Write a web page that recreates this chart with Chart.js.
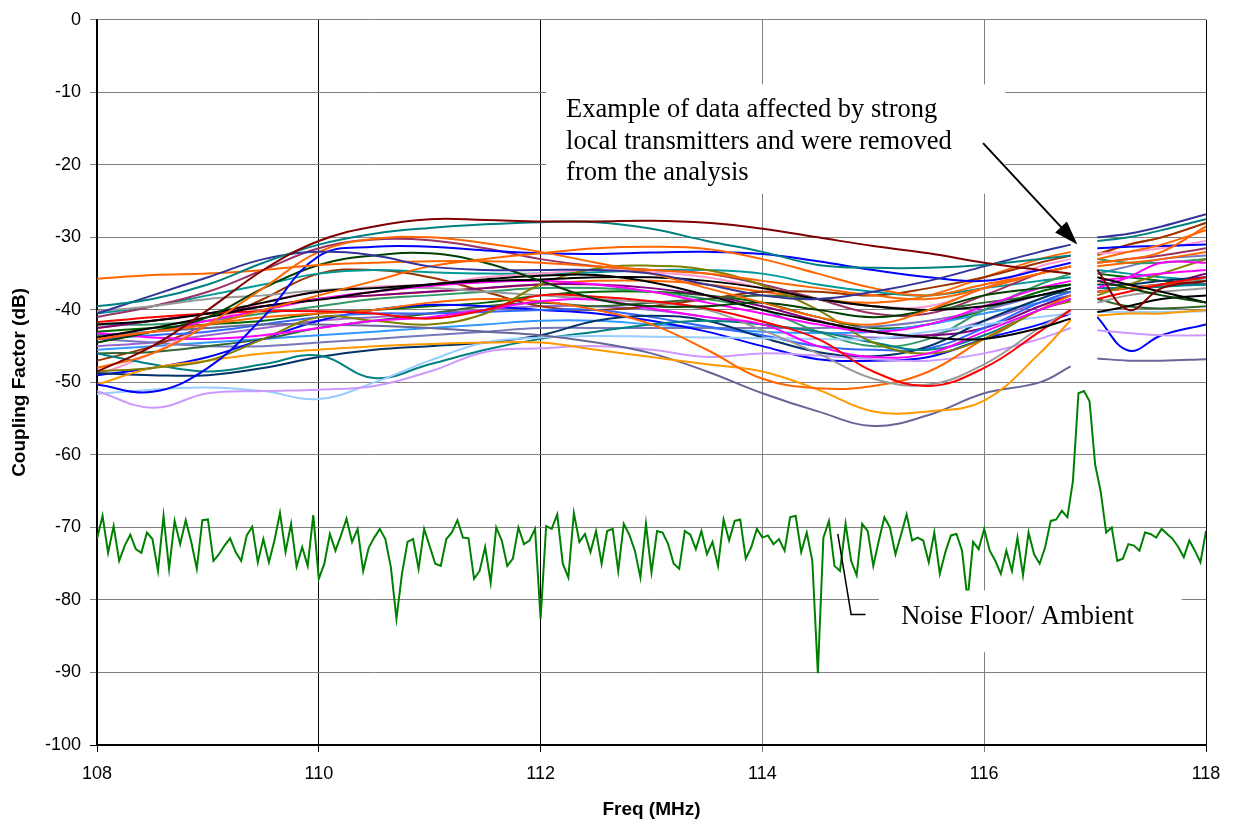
<!DOCTYPE html>
<html>
<head>
<meta charset="utf-8">
<script src="https://cdn.jsdelivr.net/npm/chart.js@4"></script>
<style>
  html, body { margin: 0; padding: 0; background: #fff; }
  #wrap { width: 1234px; height: 825px; }
</style>
</head>
<body>
<div id="wrap"><canvas id="grafico" width="1234" height="825"></canvas></div>
<script>
// frequenze dei punti letti (MHz), 116.9 = buco dei dati rimossi
var freq = [108, 108.5, 109, 109.5, 110, 110.5, 111, 111.5, 112, 112.5, 113, 113.5, 114, 114.5, 115, 115.5, 116, 116.5, 116.78, 116.9, 117.02, 117.3, 117.6, 118];

// una riga per misura: [colore, valori in dB]
var misure = [
  ['#800000', [-48.5,-45,-40,-34.5,-30.5,-28.5,-27.5,-27.6,-27.8,-27.8,-27.7,-28,-28.8,-30,-31.2,-32.2,-33.5,-34.5,-35,null,-34.5,-40,-37,-36]],
  ['#008080', [-39.5,-38.5,-36.5,-33.5,-31,-29.5,-28.7,-28.2,-27.9,-27.9,-28.8,-30.5,-32,-33.8,-34.2,-34.2,-33.8,-33,-32.5,null,-30.5,-30,-29,-27.5]],
  ['#333399', [-40.5,-38,-35.5,-33,-32,-32.5,-34,-34.5,-34.5,-34.5,-35,-36.5,-38,-38.5,-37.5,-36,-34,-32,-31,null,-30,-29.5,-28.5,-26.8]],
  ['#FF6600', [-35.7,-35.2,-35,-34.5,-33.8,-33.5,-33.3,-33.3,-33.5,-34,-34.5,-35,-36,-37,-38,-38.5,-37,-35,-34,null,-33,-32,-31,-29]],
  ['#FF6600', [-48,-46,-42,-37,-32,-30.2,-30,-30.8,-32,-33.5,-35,-37,-39,-41,-42,-40,-37,-35,-34,null,-33.5,-33,-32,-28.5]],
  ['#FF6600', [-44,-43,-42,-40,-38,-36,-34,-33,-32.2,-31.5,-31.3,-31.6,-33,-35,-37,-38,-36.5,-35,-34,null,-34,-33.5,-33,-32]],
  ['#0000FF', [-50.3,-51.3,-48,-41,-32.6,-31.3,-31.3,-31.8,-32.2,-32.3,-32.1,-32,-32.3,-33.3,-34.5,-35.5,-36,-34.5,-33.5,null,-31.5,-31.3,-31.2,-31]],
  ['#004000', [-44.5,-43,-41,-37,-33.8,-32.5,-32.2,-33.5,-36,-38.5,-39.5,-39.5,-39,-40,-41,-40,-38,-37,-36.5,null,-36,-37,-38,-39]],
  ['#000000', [-43.8,-42.5,-41,-39.5,-38.6,-37.5,-36.5,-35.8,-35.3,-35.2,-36.2,-38,-40,-41.6,-43,-43.8,-44,-42.5,-41.2,null,-40.3,-39.5,-38.5,-38]],
  ['#000000', [-42,-41.5,-40.5,-39,-37.5,-37,-36.5,-36,-35.8,-35.5,-35.5,-36,-37,-38.5,-39.5,-40,-39.5,-38,-37,null,-35.5,-36.5,-37.5,-39]],
  ['#FF0000', [-41.7,-41,-40.5,-40.2,-40.2,-40.5,-41.2,-40,-38,-38.2,-38.8,-39.8,-41.6,-44,-48.5,-50.5,-48,-43,-40,null,-38.5,-37.5,-36.5,-35.5]],
  ['#FF00FF', [-43.2,-43.8,-44,-43.5,-42.5,-41.5,-41,-40,-38.8,-38.6,-39.8,-41,-42,-45,-46.5,-46,-43,-40,-38.5,null,-37,-35.5,-33.5,-33.5]],
  ['#FF00FF', [-44,-43,-41.5,-40,-38.5,-37.5,-36.7,-36.2,-36,-36.5,-37.5,-39,-40.5,-42,-43,-42,-39.5,-37,-36,null,-36,-35.5,-35,-34.5]],
  ['#808000', [-48.5,-48,-47,-44,-41,-41.5,-42,-40.5,-36.5,-34.3,-33.9,-34.5,-36.6,-40,-44.5,-46,-44,-40,-38.8,null,-38,-36.5,-35,-33]],
  ['#999999', [-40.2,-39.5,-38.5,-38,-37.3,-37,-37,-37.5,-38,-38.5,-39,-40,-42.8,-46,-49.5,-50.3,-47.5,-42.5,-40,null,-39,-38,-37.5,-37]],
  ['#FF6600', [-44,-43,-42,-41,-40.5,-40,-39,-38.5,-38.8,-40,-42,-45.5,-49.5,-50.8,-50.5,-48.5,-44,-40,-38,null,-37.5,-37,-36.5,-36]],
  ['#FF9900', [-50.3,-48,-47,-46,-45.5,-45,-44.7,-44.5,-44.5,-45.5,-46.5,-47.5,-48.5,-51,-54,-54,-52.5,-46,-41.4,null,-40.8,-40.5,-40.5,-40]],
  ['#666699', [-43.5,-43,-42.5,-42,-42,-42.2,-42.5,-43,-43.5,-44.5,-46,-48.5,-51.5,-54,-56,-54.5,-51.5,-50,-47.8,null,-46.7,-47,-47,-46.8]],
  ['#CC99FF', [-51.2,-53.5,-51.5,-51.2,-51,-50.5,-48.5,-45.8,-45.3,-45,-45.5,-46.5,-46,-46.3,-46.8,-47,-46,-44,-42.5,null,-42.8,-43.2,-43.5,-43.5]],
  ['#99CCFF', [-51.6,-51,-50.7,-51.2,-52.3,-50,-47,-44.5,-43.8,-43.6,-43.7,-43.8,-43.9,-44,-44,-43,-42,-41,-40.5,null,-40.3,-40.3,-40.3,-40.2]],
  ['#008080', [-46,-47.5,-48.5,-47.5,-46.3,-49.4,-47.5,-45.5,-44,-43,-42,-41.5,-42,-43,-44.5,-45.5,-43.5,-40,-38.5,null,-37,-37,-36.8,-36.5]],
  ['#003366', [-48.7,-49,-49,-48,-46.5,-45.5,-45,-44.5,-43.5,-41.5,-40.8,-41.5,-43.8,-45.8,-46.4,-45,-41.5,-38.5,-37,null,-36.5,-36.5,-36,-35.5]],
  ['#3366FF', [-44,-43.5,-43,-42,-41,-40.5,-40.5,-40.3,-40,-40,-41,-42.3,-43.5,-45,-45.5,-45.3,-42.5,-39,-37.5,null,-37,-37,-36.5,-36.5]],
  ['#0000FF', [-49,-48,-46.5,-44,-41.5,-40,-39.3,-39.5,-40,-40.5,-41.5,-43,-45,-46.8,-47,-46.5,-44,-42,-40.5,null,-41,-45.6,-43.5,-42]],
  ['#336633', [-46,-45.8,-45,-44,-42.5,-41.5,-40.5,-39.5,-39,-39.5,-39,-38.5,-38,-38.5,-39.5,-40,-39,-38,-37.5,null,-38.5,-39.5,-39.8,-39.5]],
  ['#800080', [-42.5,-41.5,-40.5,-39.5,-38.5,-38,-37.5,-37,-36.5,-36.5,-37,-38,-39.5,-41.5,-43,-43.5,-42.5,-39.5,-38,null,-37.5,-37,-36.5,-35]],
  ['#339966', [-42,-42,-41.5,-40.5,-39.5,-38.5,-38,-37.5,-37,-37,-37.5,-38.5,-40,-43,-45,-44,-40,-36.5,-35,null,-33,-33.5,-33.5,-33]],
  ['#FF99CC', [-49,-46,-42,-39,-37.5,-36.8,-36.5,-35.5,-35,-34.5,-34.8,-35.5,-37,-38.5,-39.5,-39.5,-37,-34,-33,null,-32.2,-32,-31.5,-30.5]],
  ['#993366', [-41,-39.5,-37.5,-34.5,-31.5,-30.3,-30.4,-31.5,-33,-34,-34.5,-35,-36.5,-38.5,-40.5,-40.5,-38,-35,-34,null,-33.5,-33,-32.5,-31.5]],
  ['#009999', [-40.5,-39.5,-38,-36.5,-35,-34.5,-34.8,-35,-35,-34.8,-34.5,-34.5,-35,-36.5,-37.5,-38,-37,-36,-35.5,null,-34.5,-35,-35.5,-36]],
  ['#993300', [-47,-45,-42,-38.5,-35,-34.5,-35.5,-37.5,-39.5,-40,-39.5,-38.5,-37.5,-37.5,-38,-37,-35.5,-33.5,-32.5,null,-32.3,-31,-30,-28]],
  ['#7777BB', [-44,-44.5,-45,-45,-44.5,-44,-43.5,-43,-42.5,-42.5,-42.5,-42.5,-42.5,-42.5,-42.3,-41.5,-40,-38,-37,null,-35,-34,-33,-32.5]],
  ['#3399FF', [-45.5,-45,-44.5,-44,-43.5,-43,-42.5,-42,-41.5,-41.5,-42,-42.5,-43,-43.2,-43,-42,-40.5,-39,-38,null,-37.5,-37,-36.5,-36]],
  ['#006600', [-43,-42.5,-42,-41.5,-40.5,-40,-39.5,-39,-38,-37.5,-37.5,-38,-39,-41,-42.5,-42,-40,-37.5,-36.5,null,-35,-35.5,-36,-36.5]],
  ['#FF6600', [-42.5,-41.5,-40.5,-39.5,-38.5,-38,-37.5,-37,-36.5,-36,-36,-36.5,-37.5,-38.5,-39,-38,-35.5,-33,-32,null,-32.5,-31,-30,-28]],
  ['#9966CC', [-45,-44.5,-43.5,-42.5,-41.5,-41,-40.5,-40,-39.5,-39.5,-40,-41,-42,-43,-43.8,-43.5,-41.5,-39,-38,null,-37,-37,-36.5,-36]]
];

// rumore di fondo, un valore ogni 0.05 MHz da 108 a 118
var rumoreInizio = 108;
var rumorePasso = 0.05;
var rumore = [
  -71.6,-68.4,-73.5,-69.8,-74.6,-72.5,-71,-73,-73.5,-70.7,-71.6,-76,-68.4,-75.7,-69.1,-72.3,-69,-72,-75.7,-69,
  -68.9,-74.6,-73.7,-72.5,-71.5,-73.4,-74.6,-71.1,-69.9,-74.8,-71.6,-74.8,-71.8,-68,-73.4,-69.5,-75.4,-72.7,-75.3,-68.3,
  -77.1,-75,-70.9,-73.2,-71.1,-68.8,-72,-70.2,-76,-72.8,-71.4,-70.2,-71.6,-75.5,-82.6,-76.4,-72,-71.6,-75.7,-70.2,
  -72.6,-75,-75.3,-71.6,-70.7,-69,-71.4,-71.5,-77.1,-76,-72.7,-77.6,-70,-71.8,-75.3,-74.3,-70,-72.3,-71.8,-70.2,
  -82.6,-69.8,-70.2,-68.2,-75,-76.9,-68,-72,-70.9,-73.4,-70.5,-75,-70.5,-70.2,-76,-69.5,-71,-73.2,-76.9,-69.5,
  -76.2,-70.5,-70.7,-72.3,-75,-75.7,-70.5,-71,-73,-70.5,-73.7,-72,-75.3,-68.9,-71.8,-69.1,-68.9,-74.3,-72.7,-70.2,
  -71.4,-71.1,-72.3,-71.6,-73.2,-68.6,-68.4,-73.4,-70.7,-74.6,-90.1,-71.4,-69.1,-75.3,-76,-69.5,-74.6,-76.6,-69.5,-70.5,
  -75.3,-71.8,-68.6,-70,-73.7,-71,-68.2,-71.8,-71.4,-71.8,-74.8,-70.7,-76.4,-73.4,-71.1,-70.9,-73.2,-80,-72,-73,
  -70.2,-73.2,-74.6,-76.4,-73.2,-76,-71.4,-76.6,-70.7,-73.7,-75,-72.7,-69.1,-68.9,-67.7,-68.6,-63.6,-51.5,-51.2,-52.6,
  -61.3,-65,-70.7,-70,-74.6,-74.3,-72.3,-72.5,-73.2,-70.7,-70.9,-71.4,-70.2,-70.9,-71.6,-72.7,-74.1,-71.8,-73.2,-74.8,-70.5
];

var xTicks = [108, 110, 112, 114, 116, 118];
var yTicks = [0, -10, -20, -30, -40, -50, -60, -70, -80, -90, -100];

// Costruisci i dataset
var datasets = [];
misure.forEach(function (m) {
  datasets.push({
    data: freq.map(function (f, i) { return { x: f, y: m[1][i] }; }),
    borderColor: m[0],
    borderWidth: 2,
    pointRadius: 0,
    tension: 0.4,
    spanGaps: false
  });
});
datasets.push({
  data: rumore.map(function (v, i) { return { x: rumoreInizio + i * rumorePasso, y: v }; }),
  borderColor: '#008000',
  borderWidth: 2,
  pointRadius: 0,
  tension: 0
});

// Note disegnate sopra le linee
var note = {
  id: 'note',
  afterDatasetsDraw: function (chart) {
    var ctx = chart.ctx;
    var sx = chart.scales.x, sy = chart.scales.y;
    function px(v) { return sx.getPixelForValue(v); }
    function py(v) { return sy.getPixelForValue(v); }
    ctx.save();

    // riquadro in alto
    ctx.fillStyle = '#fff';
    ctx.fillRect(px(112.05), py(-8.9), px(116.19) - px(112.05), py(-24) - py(-8.9));
    ctx.fillStyle = '#000';
    ctx.font = '26.5px "Liberation Serif", "Times New Roman", serif';
    ctx.textBaseline = 'middle';
    ctx.textAlign = 'left';
    ctx.fillText('Example of data affected by strong', px(112.23), py(-12.5));
    ctx.fillText('local transmitters and were removed', px(112.23), py(-16.8));
    ctx.fillText('from the analysis', px(112.23), py(-21.1));

    // freccia
    var x0 = px(115.99), y0 = py(-17.0), x1 = px(116.84), y1 = py(-31.0);
    var ang = Math.atan2(y1 - y0, x1 - x0);
    ctx.strokeStyle = '#000';
    ctx.lineWidth = 2;
    ctx.beginPath();
    ctx.moveTo(x0, y0);
    ctx.lineTo(x1 - 18 * Math.cos(ang), y1 - 18 * Math.sin(ang));
    ctx.stroke();
    ctx.beginPath();
    ctx.moveTo(x1, y1);
    ctx.lineTo(x1 - 24 * Math.cos(ang) + 8 * Math.sin(ang), y1 - 24 * Math.sin(ang) - 8 * Math.cos(ang));
    ctx.lineTo(x1 - 24 * Math.cos(ang) - 8 * Math.sin(ang), y1 - 24 * Math.sin(ang) + 8 * Math.cos(ang));
    ctx.closePath();
    ctx.fill();

    // riquadro rumore
    ctx.fillStyle = '#fff';
    ctx.fillRect(px(115.05), py(-78.7), px(117.78) - px(115.05), py(-87.2) - py(-78.7));
    ctx.fillStyle = '#000';
    ctx.textAlign = 'center';
    ctx.fillText('Noise Floor/ Ambient', px(116.3), py(-82.4));

    ctx.lineWidth = 1.5;
    ctx.beginPath();
    ctx.moveTo(px(114.68), py(-70.9));
    ctx.lineTo(px(114.8), py(-82.0));
    ctx.lineTo(px(114.93), py(-82.0));
    ctx.stroke();

    ctx.restore();
  }
};

var canvas = document.getElementById('grafico').getContext('2d');
var grafico = new Chart(canvas, {
  type: 'line',
  data: { datasets: datasets },
  options: {
    responsive: false,
    animation: false,
    layout: { padding: { top: 17, right: 28, left: 0, bottom: 0 } },
    plugins: { legend: { display: false }, tooltip: { enabled: false } },
    scales: {
      x: {
        type: 'linear',
        min: 108, max: 118,
        afterBuildTicks: function (s) { s.ticks = xTicks.map(function (v) { return { value: v }; }); },
        afterFit: function (s) { s.height = 80; },
        ticks: { color: '#000', font: { family: 'Arial, "Liberation Sans"', size: 18 }, padding: 11 },
        grid: {
          color: function (c) { return (c.tick && (c.tick.value === 114 || c.tick.value === 116)) ? '#808080' : '#000'; },
          lineWidth: 1,
          tickLength: 7
        },
        border: { color: '#000', width: 1.5 },
        title: { display: true, text: 'Freq (MHz)', color: '#000', font: { family: 'Arial, "Liberation Sans"', size: 19, weight: 'bold' }, padding: { top: 2 } }
      },
      y: {
        min: -100, max: 0,
        afterBuildTicks: function (s) { s.ticks = yTicks.map(function (v) { return { value: v }; }); },
        afterFit: function (s) { s.width = 97; },
        ticks: { color: '#000', font: { family: 'Arial, "Liberation Sans"', size: 18 }, padding: 9 },
        grid: {
          color: function (c) { return (c.tick && c.tick.value === -100) ? '#000' : '#808080'; },
          lineWidth: 1,
          tickLength: 7
        },
        border: { color: '#000', width: 1.5 },
        title: { display: true, text: 'Coupling Factor (dB)', color: '#000', font: { family: 'Arial, "Liberation Sans"', size: 19, weight: 'bold' }, padding: { top: 8, bottom: 0 } }
      }
    }
  },
  plugins: [note]
});
</script>
</body>
</html>
